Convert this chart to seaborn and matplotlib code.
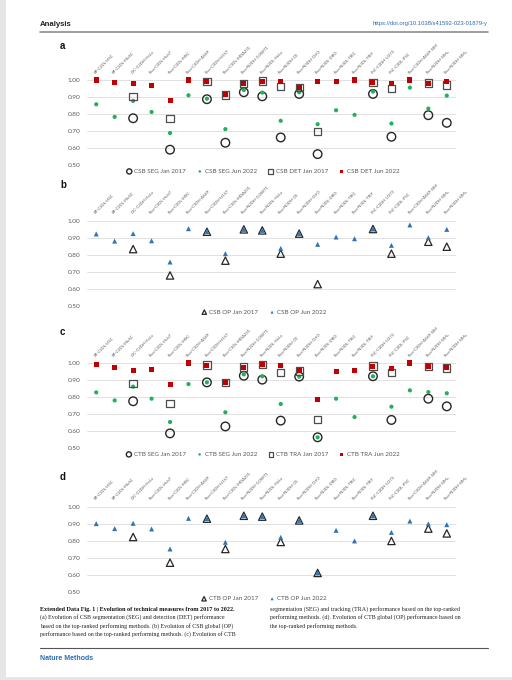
import numpy as np
import matplotlib
matplotlib.use("Agg")
import matplotlib.pyplot as plt
from matplotlib.patches import Rectangle
import seaborn as sns

nan = np.nan

cats = ["BF-C2DL-HSC", "BF-C2DL-MuSC", "DIC-C2DH-HeLa", "Fluo-C2DL-Huh7", "Fluo-C2DL-MSC",
        "Fluo-C3DH-A549", "Fluo-C3DH-H157", "Fluo-C3DL-MDA231", "Fluo-N2DH-GOWT1", "Fluo-N2DL-HeLa",
        "Fluo-N3DH-CE", "Fluo-N3DH-CHO", "Fluo-N3DL-DRO", "Fluo-N3DL-TRIC", "Fluo-N3DL-TRIF",
        "PhC-C2DH-U373", "PhC-C2DL-PSC", "Fluo-C3DH-A549-SIM", "Fluo-N2DH-SIM+", "Fluo-N3DH-SIM+"]

# panel a
csb_seg_2017 = [nan, nan, 0.775, nan, 0.59, nan, 0.887, 0.631, 0.928, 0.904,
                0.662, 0.918, 0.564, nan, nan, 0.918, 0.666, nan, 0.793, 0.748]
csb_seg_2022 = [0.857, 0.783, 0.877, 0.812, 0.688, 0.91, 0.89, 0.711, 0.941, 0.926,
                0.76, 0.928, 0.74, 0.822, 0.795, 0.932, 0.744, 0.955, 0.832, 0.908]
csb_det_2017 = [nan, nan, 0.902, nan, 0.773, nan, 0.99, 0.912, 0.979, 0.994,
                0.961, 0.955, 0.697, nan, nan, 0.986, 0.951, nan, 0.982, 0.971]
csb_det_2022 = [1.00, 0.984, 0.977, 0.969, 0.877, 1.00, 0.99, 0.912, 0.979, 0.994,
                0.99, 0.955, 0.99, 0.994, 1.00, 0.986, 0.979, 1.00, 0.982, 0.994]

# panel b
csb_op_2017 = [nan, nan, 0.833, nan, 0.678, nan, 0.935, 0.765, 0.949, 0.943,
               0.806, 0.924, 0.627, nan, nan, 0.951, 0.806, nan, 0.876, 0.847]
csb_op_2022 = [0.922, 0.88, 0.924, 0.882, 0.757, 0.953, 0.935, 0.806, 0.949, 0.943,
               0.837, 0.924, 0.861, 0.904, 0.894, 0.951, 0.855, 0.975, 0.90, 0.949]

# panel c
ctb_seg_2017 = [nan, nan, 0.775, nan, 0.586, nan, 0.886, 0.627, 0.925, 0.902,
                0.661, 0.92, 0.563, nan, nan, 0.922, 0.665, nan, 0.79, 0.745]
ctb_seg_2022 = [0.827, 0.78, 0.861, 0.79, 0.653, 0.876, 0.886, 0.71, 0.933, 0.922,
                0.759, 0.92, 0.563, 0.79, 0.682, 0.922, 0.743, 0.839, 0.829, 0.822]
ctb_tra_2017 = [nan, nan, 0.88, nan, 0.761, nan, 0.988, 0.884, 0.976, 0.99,
                0.945, 0.953, 0.669, nan, nan, 0.982, 0.943, nan, 0.978, 0.971]
ctb_tra_2022 = [0.99, 0.975, 0.957, 0.961, 0.875, 1.00, 0.988, 0.884, 0.976, 0.99,
                0.988, 0.953, 0.784, 0.951, 0.953, 0.982, 0.967, 1.00, 0.978, 0.971]

# panel d
ctb_op_2017 = [nan, nan, 0.823, nan, 0.673, nan, 0.93, 0.753, 0.947, 0.942,
               0.794, 0.92, 0.613, nan, nan, 0.947, 0.80, nan, 0.872, 0.844]
ctb_op_2022 = [0.901, 0.872, 0.903, 0.87, 0.753, 0.932, 0.93, 0.792, 0.947, 0.942,
               0.821, 0.92, 0.613, 0.862, 0.80, 0.947, 0.85, 0.916, 0.90, 0.895]

ytick_vals = [0.5, 0.6, 0.7, 0.8, 0.9, 1.0]

sns.set_style("white")
plt.rcParams["font.family"] = ["Lato", "DejaVu Sans"]

RED = "#C00000"
GREEN = "#1FB25A"
BLUE = "#2E75B6"
DARK = "#262626"
GRAYSQ = "#4D4D4D"
TXT = "#595959"

# styles for each kind of series
circle_open = dict(marker="o", s=38, facecolor="none", edgecolor=DARK, linewidth=1.0)
dot_green = dict(marker="o", s=9, color=GREEN, edgecolor="none", linewidth=0)
square_open = dict(marker="s", s=28, facecolor="none", edgecolor=GRAYSQ, linewidth=0.9)
square_red = dict(marker="s", s=13, color=RED, edgecolor="none", linewidth=0)
tri_open = dict(marker="^", s=28, facecolor="none", edgecolor=DARK, linewidth=0.9)
tri_blue = dict(marker="^", s=13, color=BLUE, edgecolor="none", linewidth=0)

fig = plt.figure(figsize=(5.12, 6.8), dpi=100)
W, H = 512, 680


def axes_at(top_px, bot_px):
    return fig.add_axes([87 / W, 1 - bot_px / H, (456 - 87) / W, (bot_px - top_px) / H])


def draw_panel(ax, series, legend_x):
    for vals, label, style in series:
        sns.scatterplot(x=cats, y=vals, ax=ax, label=label, clip_on=False, zorder=3, **style)
    ax.set_xlim(-0.5, len(cats) - 0.5)
    ax.set_ylim(0.5, 1.0)
    ax.set_yticks(ytick_vals)
    ax.set_yticklabels([f"{v:.2f}" for v in ytick_vals], fontsize=4.6, color=TXT)
    ax.grid(axis="y", color="#DCDCDC", linewidth=0.6)
    ax.grid(axis="x", visible=False)
    for sp in ax.spines.values():
        sp.set_visible(False)
    ax.xaxis.set_ticks_position("top")
    ax.set_xticks(range(len(cats)))
    ax.set_xticklabels(cats, rotation=45, ha="left", va="bottom", rotation_mode="anchor",
                       fontsize=3.0, color=TXT)
    ax.tick_params(axis="x", length=0, pad=4)
    ax.tick_params(axis="y", length=0, pad=5)
    ax.set_xlabel("")
    ax.set_ylabel("")
    ax.legend(loc="center", bbox_to_anchor=(legend_x, -0.075), ncol=len(series), frameon=False,
              fontsize=4.5, handlelength=0.8, handletextpad=0.4, columnspacing=1.8,
              labelcolor=TXT, markerscale=0.6, borderaxespad=0)


ax_a = axes_at(80, 165)
draw_panel(ax_a, [(csb_seg_2017, "CSB SEG Jan 2017", circle_open),
                  (csb_seg_2022, "CSB SEG Jun 2022", dot_green),
                  (csb_det_2017, "CSB DET Jan 2017", square_open),
                  (csb_det_2022, "CSB DET Jun 2022", square_red)], 0.477)

ax_b = axes_at(220.7, 305.7)
draw_panel(ax_b, [(csb_op_2017, "CSB OP Jan 2017", tri_open),
                  (csb_op_2022, "CSB OP Jun 2022", tri_blue)], 0.48)

ax_c = axes_at(363, 448)
draw_panel(ax_c, [(ctb_seg_2017, "CTB SEG Jan 2017", circle_open),
                  (ctb_seg_2022, "CTB SEG Jun 2022", dot_green),
                  (ctb_tra_2017, "CTB TRA Jan 2017", square_open),
                  (ctb_tra_2022, "CTB TRA Jun 2022", square_red)], 0.477)

ax_d = axes_at(506.7, 592.3)
draw_panel(ax_d, [(ctb_op_2017, "CTB OP Jan 2017", tri_open),
                  (ctb_op_2022, "CTB OP Jun 2022", tri_blue)], 0.48)

# panel letters
for letter, y in [("a", 46), ("b", 185), ("c", 332), ("d", 477)]:
    fig.text(60 / W, 1 - y / H, letter, fontsize=7, fontweight="bold", color="#111111",
             ha="left", va="center", family=["Liberation Sans", "DejaVu Sans"])

# page header
fig.text(40 / W, 1 - 24 / H, "Analysis", fontsize=5.6, fontweight="bold", color="#222222",
         ha="left", va="center", family=["Liberation Sans", "DejaVu Sans"])
fig.text(488 / W, 1 - 24 / H, "https://doi.org/10.1038/s41592-023-01879-y", fontsize=4.2,
         color="#2B6CB0", ha="right", va="center", family=["Liberation Sans", "DejaVu Sans"])
fig.add_artist(plt.Line2D([40 / W, 488 / W], [1 - 32 / H, 1 - 32 / H], color="#8C8C8C", lw=1.2))

# caption
serif = ["Liberation Serif", "DejaVu Serif"]
cap_left = [
    "(a) Evolution of CSB segmentation (SEG) and detection (DET) performance",
    "based on the top-ranked performing methods. (b) Evolution of CSB global (OP)",
    "performance based on the top-ranked performing methods. (c) Evolution of CTB",
]
cap_right = [
    "segmentation (SEG) and tracking (TRA) performance based on the top-ranked",
    "performing methods. (d). Evolution of CTB global (OP) performance based on",
    "the top-ranked performing methods.",
]
fig.text(40 / W, 1 - 609 / H, "Extended Data Fig. 1 | Evolution of technical measures from 2017 to 2022.",
         fontsize=4.4, fontweight="bold", color="#111111", ha="left", va="center", family=serif)
for i, line in enumerate(cap_left):
    fig.text(40 / W, 1 - (617.5 + 8.5 * i) / H, line, fontsize=4.3, color="#222222",
             ha="left", va="center", family=serif)
for i, line in enumerate(cap_right):
    fig.text(270 / W, 1 - (609 + 8.5 * i) / H, line, fontsize=4.3, color="#222222",
             ha="left", va="center", family=serif)

fig.add_artist(plt.Line2D([40 / W, 488 / W], [1 - 648 / H, 1 - 648 / H], color="#555555", lw=0.8))
fig.text(40 / W, 1 - 659 / H, "Nature Methods", fontsize=5, fontweight="bold", color="#2B6CB0",
         ha="left", va="center", family=["Liberation Sans", "DejaVu Sans"])

# page edges of the scan
fig.add_artist(Rectangle((0, 0), 6 / W, 1, transform=fig.transFigure, color="#E6E6E6", lw=0))
fig.add_artist(Rectangle((0, 0), 1, 3 / H, transform=fig.transFigure, color="#E6E6E6", lw=0))

fig.savefig("out.png", dpi=100)
